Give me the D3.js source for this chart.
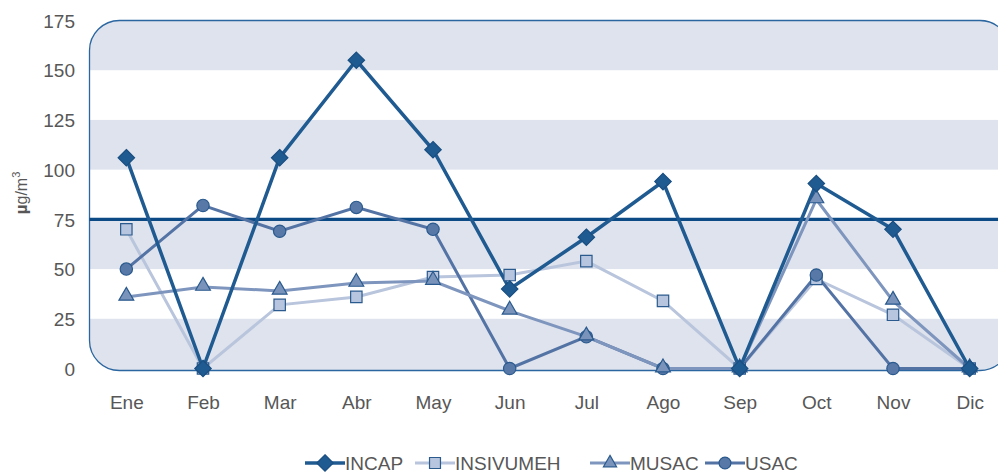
<!DOCTYPE html>
<html><head><meta charset="utf-8">
<script src="https://cdn.jsdelivr.net/npm/d3@7"></script>
<style>body{margin:0;background:#fff}svg{display:block}text{font-family:"Liberation Sans",Arial,sans-serif}</style>
</head><body><svg id="c" width="998" height="474"></svg>
<script>
const months = ["Ene","Feb","Mar","Abr","May","Jun","Jul","Ago","Sep","Oct","Nov","Dic"];
const incap = [106,0,106,155,110,40,66,94,0,93,70,0];
const insivumeh = [70,0,32,36,46,47,54,34,0,45,27,0];
const musac = [36,41,39,43,44,29,16,0,0,85,34,0];
const usac = [50,82,69,81,70,0,16,0,0,47,0,0];
const yTicks = [0,25,50,75,100,125,150,175];
const limit = 75;

const svg = d3.select("#c");
const x = d3.scalePoint().domain(months).range([88,1008]).padding(0.5);
const y = d3.scaleLinear().domain([0,175]).range([368.5,20.5]);
const L = 89.5, R = 1010, T = 20.5, B = 370.5, rad = 30;
const txt = "#575757", fs = 19;

const defs = svg.append("defs");
defs.append("clipPath").attr("id","pc").append("rect")
  .attr("x",L).attr("y",T).attr("width",R-L).attr("height",B-T).attr("rx",rad).attr("ry",rad);

const g = svg.append("g").attr("clip-path","url(#pc)");
g.append("rect").attr("x",L).attr("y",T).attr("width",R-L).attr("height",B-T).attr("fill","#fff");
// shaded bands: 0-25, 50-75, 100-125, 150-175
[[0,25],[50,75],[100,125],[150,175]].forEach(([lo,hi])=>{
  const top = hi===175 ? T-5 : y(hi);
  const bot = lo===0 ? B+5 : y(lo);
  g.append("rect").attr("x",L-5).attr("width",R-L+10).attr("y",top).attr("height",bot-top).attr("fill","#dfe3ed");
});

svg.append("rect").attr("x",L).attr("y",T).attr("width",R-L).attr("height",B-T).attr("rx",rad).attr("ry",rad)
  .attr("fill","none").attr("stroke","#2b66a0").attr("stroke-width",1.3);

// limit line
svg.append("line").attr("x1",L).attr("x2",R).attr("y1",y(limit)).attr("y2",y(limit))
  .attr("stroke","#0c4a86").attr("stroke-width",3.2);

// axes
const ya = d3.axisLeft(y).tickValues(yTicks).tickSize(0).tickPadding(0);
svg.append("g").attr("transform","translate(75,0)").call(ya)
  .call(a=>a.select(".domain").remove())
  .selectAll("text").attr("font-size",fs).attr("fill",txt).attr("font-family","Liberation Sans, Arial, sans-serif").attr("dy","0.35em");
const xa = d3.axisBottom(x).tickSize(0).tickPadding(0);
svg.append("g").attr("transform","translate(0,395)").call(xa)
  .call(a=>a.select(".domain").remove())
  .selectAll("text").attr("font-size",fs).attr("fill",txt).attr("font-family","Liberation Sans, Arial, sans-serif").attr("dy","0.72em");

// y label
const yl = svg.append("text").attr("transform","translate(27,193) rotate(-90)").attr("text-anchor","middle")
  .attr("font-size",16).attr("fill",txt);
yl.append("tspan").text("µ").attr("font-weight","bold").attr("font-size",17);
yl.append("tspan").text("g/m");
yl.append("tspan").text("3").attr("font-size",11).attr("dy",-7);

const diamond = { draw(ctx, size){ const r = Math.sqrt(size/2); ctx.moveTo(0,-r); ctx.lineTo(r,0); ctx.lineTo(0,r); ctx.lineTo(-r,0); ctx.closePath(); } };

const specs = [
  {name:"INCAP", data:incap, line:"#1f5a91", lw:3.5, fill:"#1f5a91", stroke:"#1a4f82", sym:diamond, size:135, lsize:135},
  {name:"INSIVUMEH", data:insivumeh, line:"#b9c5dc", lw:3, fill:"#b8c5de", stroke:"#2a5a8e", sym:d3.symbolSquare, size:130, lsize:120},
  {name:"MUSAC", data:musac, line:"#7e95bd", lw:3, fill:"#7a93bb", stroke:"#2a5a8e", sym:d3.symbolTriangle, size:95, lsize:75},
  {name:"USAC", data:usac, line:"#5473a5", lw:3, fill:"#5878a8", stroke:"#2a5a8e", sym:d3.symbolCircle, size:120, lsize:110}
];
const line = d3.line().x((d,i)=>x(months[i])).y(d=>y(d));
const order = [1,3,2,0];
order.forEach(k=>{
  const s = specs[k];
  svg.append("path").datum(s.data).attr("d",line).attr("fill","none")
    .attr("stroke",s.line).attr("stroke-width",s.lw).attr("stroke-linejoin","miter");
});
order.forEach(k=>{
  const s = specs[k];
  svg.append("g").selectAll("path").data(s.data).join("path")
    .attr("transform",(d,i)=>`translate(${x(months[i])},${y(d) - (s.sym===d3.symbolTriangle?1:0)})`)
    .attr("d",d3.symbol().type(s.sym).size(s.size))
    .attr("fill",s.fill).attr("stroke",s.stroke).attr("stroke-width",1.2);
});

// legend
const lx = [305,415,590,705];
const lg = svg.append("g");
specs.forEach((s,i)=>{
  const gx = lx[i], gy = 463;
  lg.append("line").attr("x1",gx).attr("x2",gx+40).attr("y1",gy).attr("y2",gy)
    .attr("stroke",s.line).attr("stroke-width",s.lw);
  lg.append("path").attr("transform",`translate(${gx+20},${gy})`)
    .attr("d",d3.symbol().type(s.sym).size(s.lsize)).attr("fill",s.fill).attr("stroke",s.stroke).attr("stroke-width",1.2);
  lg.append("text").attr("x",gx+40).attr("y",gy).attr("dy","0.36em").attr("font-size",fs).attr("fill",txt).text(s.name);
});
</script></body></html>
